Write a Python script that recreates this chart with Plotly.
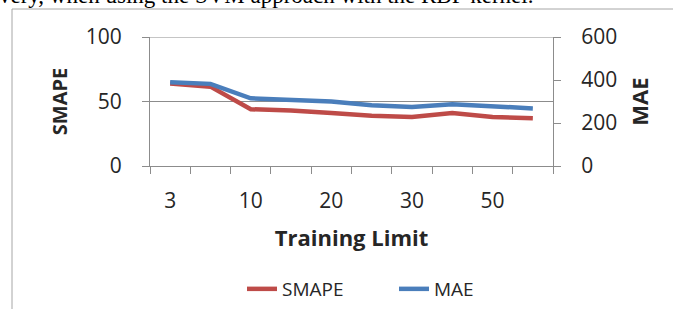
import plotly.graph_objects as go

categories = ["3", "5", "10", "15", "20", "25", "30", "40", "50", "60"]
shown_labels = ["3", "", "10", "", "20", "", "30", "", "50", ""]
smape = [64, 61.5, 44, 43, 41, 39, 38, 41, 38, 37]
mae = [390, 382, 315, 308, 300, 283, 275, 287, 279, 268]

W, H = 673, 309
L, R, T, B = 150, 120, 37, 143
pw, ph = W - L - R, H - T - B

def px(x):
    return (x - L) / pw

def py(y):
    return (H - B - y) / ph

idx = list(range(len(categories)))
lab_vals = [i for i, t in zip(idx, shown_labels) if t]
lab_text = [t for t in shown_labels if t]

RED = "#BE4B48"
BLUE = "#4A7EBB"
GRID = "#8C8C8C"
TXT = "#262626"

fig = go.Figure()
fig.add_trace(go.Scatter(x=idx, y=smape, name="SMAPE", mode="lines",
                         line=dict(color=RED, width=4.5)))
fig.add_trace(go.Scatter(x=idx, y=mae, name="MAE", mode="lines", yaxis="y2",
                         line=dict(color=BLUE, width=4.5)))

fig.update_layout(
    width=W, height=H,
    margin=dict(l=L, r=R, t=T, b=B, autoexpand=False),
    paper_bgcolor="white", plot_bgcolor="white",
    font=dict(family="Open Sans", color=TXT, size=21),
    showlegend=True,
    legend=dict(orientation="h", x=px(242), xanchor="left", y=py(289), yanchor="middle",
                font=dict(size=19, family="Open Sans", color=TXT),
                bgcolor="rgba(0,0,0,0)", entrywidth=107, entrywidthmode="pixels",
                tracegroupgap=0),
    xaxis=dict(
        range=[-0.5, len(categories) - 0.5],
        tickmode="array", tickvals=lab_vals, ticktext=lab_text,
        ticks="outside", ticklen=7, tickcolor="rgba(0,0,0,0)",
        ticklabelstandoff=9,
        minor=dict(tickmode="array", tickvals=[i - 0.5 for i in range(len(categories) + 1)],
                   ticks="outside", ticklen=7, tickcolor=GRID, tickwidth=1, showgrid=False),
        showline=True, linecolor=GRID, linewidth=1,
        showgrid=False, zeroline=False,
        tickfont=dict(size=21),
        title=dict(text="<b>Training Limit</b>", font=dict(size=22), standoff=17),
    ),
    yaxis=dict(
        range=[0, 100], tickmode="linear", tick0=0, dtick=50,
        ticks="outside", ticklen=7, tickcolor=GRID,
        ticklabelstandoff=16,
        showline=True, linecolor=GRID, linewidth=1,
        showgrid=True, gridcolor=GRID, gridwidth=1, zeroline=False,
        tickfont=dict(size=21),
        title=dict(text="<b>SMAPE</b>", font=dict(size=20), standoff=12),
    ),
    yaxis2=dict(
        range=[0, 600], tickmode="linear", tick0=0, dtick=200,
        overlaying="y", side="right",
        ticks="outside", ticklen=7, tickcolor=GRID,
        ticklabelstandoff=16,
        showline=True, linecolor=GRID, linewidth=1,
        showgrid=False, zeroline=False,
        tickfont=dict(size=21),
        title=dict(text="<b>MAE</b>", font=dict(size=22), standoff=16),
    ),
)

# top gridline at 100 (at the plot edge)
fig.add_shape(type="line", xref="paper", yref="y", x0=0, x1=1, y0=100, y1=100,
              line=dict(color=GRID, width=1))

# chart frame (top and left edges of the embedded chart box)
fig.add_shape(type="line", xref="paper", yref="paper",
              x0=px(12), x1=px(W + 5), y0=py(9), y1=py(9),
              line=dict(color="#A6A6A6", width=1))
fig.add_shape(type="line", xref="paper", yref="paper",
              x0=px(12), x1=px(12), y0=py(9), y1=py(H + 5),
              line=dict(color="#A6A6A6", width=1))

# cropped line of surrounding document text at the top
fig.add_annotation(xref="paper", yref="paper", x=px(-3), y=py(-5),
                   xanchor="left", yanchor="middle", showarrow=False,
                   text="very, when using the SVM approach with the RBF kernel.",
                   font=dict(family="Liberation Serif", size=23, color="#000000"))

fig.write_html("out.html", config={"displayModeBar": False},
               post_script="document.body.style.margin='0';document.body.style.overflow='hidden';")
